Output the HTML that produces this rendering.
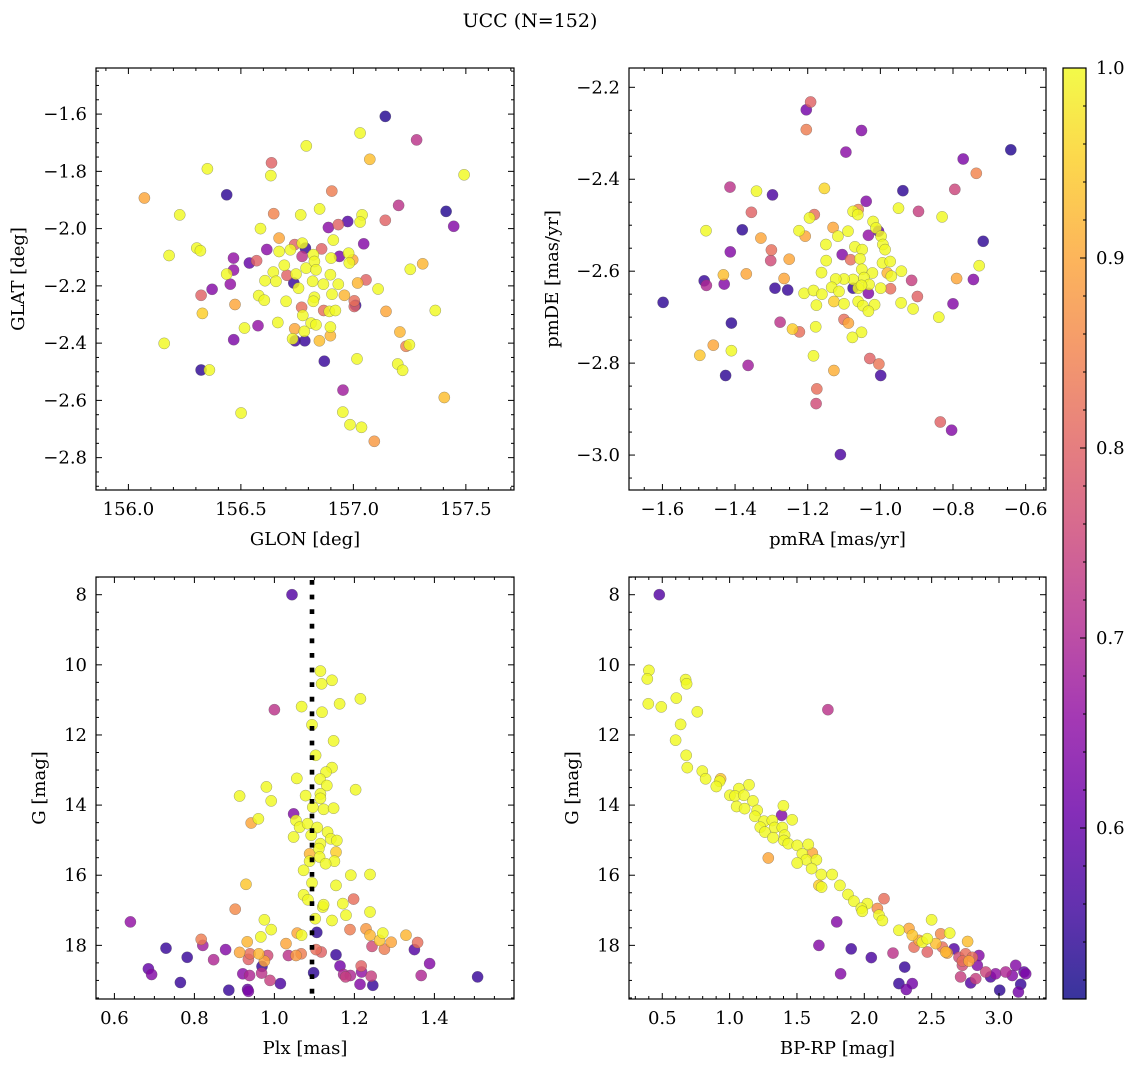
<!DOCTYPE html>
<html><head><meta charset="utf-8">
<style>
html,body{margin:0;padding:0;background:#fff;}
svg{display:block;font-family:"DejaVu Serif","Liberation Serif",serif;}
</style></head>
<body>
<svg id="fig" width="1136" height="1067" viewBox="0 0 1136 1067" xmlns="http://www.w3.org/2000/svg">
<defs>
<linearGradient id="plasmaGrad" x1="0" y1="1" x2="0" y2="0">
<stop offset="0" stop-color="#0d0887"/><stop offset="0.1" stop-color="#41049d"/><stop offset="0.2" stop-color="#6a00a8"/><stop offset="0.3" stop-color="#8f0da4"/><stop offset="0.4" stop-color="#b12a90"/><stop offset="0.5" stop-color="#cc4778"/><stop offset="0.6" stop-color="#e16462"/><stop offset="0.7" stop-color="#f2844b"/><stop offset="0.8" stop-color="#fca636"/><stop offset="0.9" stop-color="#fcce25"/><stop offset="1" stop-color="#f0f921"/>
</linearGradient>
</defs>
<text x="530" y="27" font-size="19" text-anchor="middle">UCC (N=152)</text>
<g id="root"></g>
</svg>
<script>
// ---- Panel 1: GLON / GLAT ----
const p1Glon=[157.142,157.281,157.030,156.791,157.073,156.636,156.633,156.351,157.492,156.071,156.437,156.904,156.228,156.646,156.766,156.850,157.201,157.412,157.446,157.142,157.039,157.030,156.975,156.889,156.933,156.587,156.670,156.911,157.046,156.615,156.670,156.720,156.739,156.773,156.787,156.772,156.859,156.822,156.901,156.938,156.979,156.997,156.982,156.467,156.538,156.570,156.467,156.437,156.453,156.181,156.304,156.320,156.323,156.372,156.329,156.474,156.693,156.644,156.656,156.607,156.705,156.745,156.735,156.756,156.790,156.827,156.834,156.819,156.867,156.898,156.933,157.019,157.056,157.110,157.253,157.308,157.364,156.579,156.604,156.701,156.827,156.822,156.905,156.960,157.004,157.004,157.010,157.145,156.770,156.868,156.893,156.920,156.775,156.664,156.576,156.516,156.468,156.159,156.739,156.812,156.834,156.898,156.898,156.849,156.782,156.730,156.741,156.784,157.207,157.234,157.249,156.871,157.016,157.197,157.219,156.323,156.360,156.954,157.404,156.501,156.953,156.985,157.036,157.093];
const p1Glat=[-1.608,-1.690,-1.666,-1.711,-1.758,-1.770,-1.815,-1.791,-1.812,-1.893,-1.882,-1.869,-1.952,-1.948,-1.952,-1.931,-1.919,-1.940,-1.992,-1.971,-1.952,-1.977,-1.975,-1.996,-1.986,-2.000,-2.033,-2.040,-2.053,-2.073,-2.080,-2.074,-2.056,-2.051,-2.068,-2.097,-2.071,-2.091,-2.103,-2.097,-2.086,-2.109,-2.120,-2.103,-2.120,-2.112,-2.145,-2.159,-2.194,-2.094,-2.068,-2.077,-2.233,-2.212,-2.296,-2.265,-2.128,-2.152,-2.184,-2.182,-2.163,-2.159,-2.190,-2.208,-2.138,-2.115,-2.144,-2.184,-2.194,-2.161,-2.194,-2.190,-2.179,-2.211,-2.142,-2.123,-2.286,-2.234,-2.250,-2.254,-2.240,-2.254,-2.229,-2.233,-2.252,-2.272,-2.268,-2.289,-2.275,-2.286,-2.289,-2.286,-2.303,-2.328,-2.339,-2.347,-2.388,-2.401,-2.350,-2.330,-2.336,-2.344,-2.374,-2.392,-2.359,-2.385,-2.392,-2.392,-2.361,-2.411,-2.406,-2.463,-2.455,-2.473,-2.495,-2.494,-2.494,-2.564,-2.590,-2.644,-2.641,-2.685,-2.694,-2.743];
const p1Prob=[0.53,0.72,0.98,0.98,0.93,0.80,0.98,0.98,0.98,0.90,0.54,0.84,0.98,0.85,0.98,0.98,0.72,0.53,0.64,0.80,0.98,0.98,0.58,0.65,0.80,0.98,0.90,0.98,0.64,0.65,0.98,0.98,0.80,0.98,0.55,0.72,0.80,0.98,0.98,0.63,0.98,0.90,0.98,0.66,0.60,0.80,0.66,0.98,0.66,0.98,0.98,0.98,0.80,0.64,0.95,0.90,0.98,0.98,0.98,0.98,0.80,0.98,0.55,0.98,0.98,0.98,0.98,0.98,0.98,0.98,0.98,0.92,0.80,0.98,0.98,0.92,0.98,0.98,0.98,0.98,0.98,0.98,0.98,0.92,0.82,0.80,0.55,0.90,0.82,0.82,0.98,0.98,0.98,0.98,0.66,0.98,0.63,0.98,0.90,0.98,0.98,0.98,0.92,0.93,0.98,0.98,0.56,0.55,0.92,0.85,0.98,0.55,0.98,0.98,0.98,0.54,0.98,0.68,0.93,0.98,0.98,0.98,0.98,0.88];

// ---- Panel 2: pmRA / pmDE ----
const p2Pmra=[-1.192,-1.204,-1.204,-1.052,-1.095,-0.641,-0.772,-0.736,-0.795,-0.938,-1.414,-1.341,-1.297,-1.154,-1.039,-0.950,-0.895,-0.830,-1.355,-1.480,-1.380,-1.329,-1.413,-1.300,-1.302,-1.251,-1.432,-1.369,-1.485,-1.479,-1.430,-1.265,-1.290,-1.255,-1.598,-1.410,-1.276,-1.242,-1.223,-1.178,-1.460,-1.497,-1.410,-1.426,-1.364,-1.184,-1.128,-1.029,-1.004,-0.999,-1.175,-1.177,-1.110,-0.835,-0.804,-0.717,-0.728,-0.790,-0.744,-0.914,-0.898,-0.800,-0.839,-0.910,-0.943,-1.224,-1.207,-1.195,-1.182,-1.150,-1.149,-1.162,-1.130,-1.117,-1.089,-1.075,-1.061,-1.062,-1.070,-1.050,-1.056,-1.082,-1.105,-1.020,-1.012,-1.005,-1.033,-0.998,-0.993,-0.987,-0.994,-0.973,-0.981,-0.970,-0.942,-1.051,-1.022,-1.045,-1.075,-1.100,-1.123,-1.134,-1.114,-1.075,-1.061,-1.033,-1.031,-0.999,-0.972,-1.210,-1.184,-1.161,-1.128,-1.100,-1.061,-1.048,-1.016,-1.033,-1.176,-1.100,-1.088,-1.052,-1.077,-1.052];
const p2Pmde=[-2.232,-2.249,-2.292,-2.294,-2.341,-2.336,-2.356,-2.387,-2.422,-2.425,-2.417,-2.426,-2.434,-2.420,-2.448,-2.463,-2.470,-2.482,-2.472,-2.512,-2.510,-2.528,-2.558,-2.554,-2.577,-2.574,-2.608,-2.606,-2.621,-2.631,-2.628,-2.616,-2.637,-2.641,-2.668,-2.713,-2.711,-2.726,-2.732,-2.721,-2.761,-2.783,-2.773,-2.827,-2.805,-2.784,-2.816,-2.790,-2.802,-2.827,-2.856,-2.888,-2.999,-2.928,-2.946,-2.535,-2.588,-2.616,-2.618,-2.620,-2.655,-2.671,-2.700,-2.682,-2.669,-2.512,-2.524,-2.484,-2.477,-2.542,-2.577,-2.603,-2.505,-2.524,-2.513,-2.470,-2.466,-2.477,-2.547,-2.553,-2.573,-2.575,-2.564,-2.492,-2.506,-2.513,-2.522,-2.524,-2.542,-2.553,-2.582,-2.579,-2.604,-2.611,-2.600,-2.596,-2.604,-2.614,-2.618,-2.617,-2.617,-2.635,-2.644,-2.637,-2.637,-2.648,-2.629,-2.637,-2.638,-2.648,-2.642,-2.650,-2.666,-2.671,-2.666,-2.675,-2.673,-2.687,-2.674,-2.705,-2.713,-2.733,-2.744,-2.631];
const p2Prob=[0.80,0.62,0.84,0.64,0.65,0.53,0.63,0.85,0.75,0.54,0.72,0.98,0.57,0.96,0.64,0.98,0.74,0.98,0.80,0.98,0.54,0.90,0.64,0.82,0.76,0.90,0.93,0.90,0.55,0.70,0.64,0.90,0.55,0.55,0.54,0.54,0.72,0.95,0.82,0.98,0.90,0.94,0.98,0.54,0.68,0.98,0.91,0.80,0.83,0.56,0.82,0.76,0.57,0.80,0.64,0.54,0.98,0.90,0.64,0.74,0.80,0.64,0.98,0.98,0.98,0.98,0.90,0.98,0.82,0.98,0.98,0.98,0.90,0.98,0.98,0.98,0.85,0.98,0.98,0.98,0.98,0.82,0.64,0.98,0.98,0.60,0.66,0.98,0.98,0.98,0.98,0.98,0.92,0.98,0.98,0.98,0.98,0.98,0.98,0.98,0.98,0.98,0.98,0.55,0.98,0.64,0.98,0.98,0.82,0.98,0.98,0.98,0.95,0.98,0.98,0.98,0.98,0.98,0.98,0.82,0.90,0.98,0.98,0.98];

// ---- Panel 3: Plx / G ----
const p3Plx=[1.044,1.115,1.144,1.118,1.000,1.068,1.163,1.215,1.119,1.094,1.148,1.103,1.144,1.129,1.056,1.114,1.131,0.980,1.203,0.913,1.078,1.115,0.992,1.115,1.096,1.123,1.148,1.048,1.054,0.960,0.942,1.063,1.083,1.107,1.133,1.048,1.092,1.141,1.156,1.115,1.111,1.154,1.088,1.113,1.088,1.150,1.128,1.073,1.191,1.239,0.929,1.094,1.154,1.073,1.084,1.198,1.171,1.121,1.123,0.902,1.239,1.179,1.102,1.144,0.975,0.640,0.992,0.966,1.106,1.057,1.068,1.189,1.229,1.239,1.271,1.263,1.292,1.329,1.358,1.350,1.275,1.244,0.817,0.821,0.729,0.782,0.848,0.878,0.932,0.913,0.939,0.961,0.935,0.975,0.983,1.029,1.035,1.054,1.067,1.104,1.117,1.154,0.969,0.921,0.938,0.968,0.989,1.015,0.685,0.693,0.765,0.886,0.933,0.935,1.098,1.164,1.173,1.178,1.190,1.217,1.218,1.242,1.214,1.246,1.367,1.388,1.508];
const p3G=[8.00,10.18,10.44,10.54,11.28,11.19,11.11,10.97,11.35,11.71,12.17,12.58,12.93,13.06,13.24,13.26,13.44,13.48,13.56,13.74,13.73,13.68,13.88,13.81,14.06,14.12,14.09,14.25,14.44,14.39,14.51,14.63,14.53,14.64,14.77,14.91,14.86,14.96,15.01,15.10,15.24,15.34,15.39,15.48,15.60,15.60,15.67,15.86,16.00,15.98,16.26,16.22,16.29,16.56,16.70,16.68,16.81,16.91,16.84,16.97,17.05,17.14,17.24,17.29,17.27,17.33,17.55,17.76,17.63,17.65,17.71,17.55,17.53,17.71,17.65,17.86,17.91,17.71,17.92,18.12,18.11,18.03,17.83,18.00,18.08,18.34,18.41,18.12,17.90,18.20,18.24,18.24,18.40,18.45,18.29,17.95,18.29,18.29,18.24,18.12,18.19,18.27,18.60,18.81,18.86,18.79,19.00,19.09,18.67,18.83,19.06,19.28,19.26,19.31,18.78,18.59,18.83,18.90,18.86,18.59,18.76,18.88,19.11,19.14,18.86,18.52,18.90];
const p3Prob=[0.58,0.98,0.98,0.98,0.72,0.98,0.98,0.98,0.98,0.98,0.98,0.98,0.98,0.98,0.98,0.98,0.98,0.98,0.98,0.98,0.98,0.98,0.98,0.98,0.98,0.98,0.98,0.64,0.98,0.98,0.90,0.98,0.98,0.98,0.98,0.98,0.98,0.98,0.98,0.98,0.98,0.95,0.92,0.98,0.98,0.98,0.98,0.98,0.98,0.98,0.94,0.98,0.98,0.98,0.98,0.82,0.98,0.98,0.98,0.86,0.98,0.98,0.98,0.98,0.98,0.66,0.98,0.98,0.54,0.90,0.98,0.84,0.88,0.92,0.98,0.94,0.90,0.92,0.82,0.58,0.84,0.76,0.84,0.68,0.55,0.55,0.70,0.64,0.92,0.90,0.82,0.92,0.80,0.90,0.76,0.90,0.72,0.88,0.84,0.82,0.80,0.55,0.55,0.65,0.70,0.72,0.74,0.57,0.60,0.64,0.55,0.55,0.60,0.63,0.54,0.62,0.70,0.74,0.70,0.80,0.66,0.74,0.64,0.55,0.70,0.64,0.55];
const plxMedian=1.094;

// ---- Panel 4: BP-RP / G ----
const p4Bprp=[0.478,0.401,0.389,0.673,0.681,0.396,0.493,0.604,0.760,1.730,0.636,0.599,0.678,0.686,0.797,0.822,0.933,0.926,0.901,1.144,1.069,1.002,1.040,1.106,1.052,1.111,1.173,1.205,1.399,1.386,1.465,1.188,1.255,1.317,1.228,1.334,1.262,1.391,1.408,1.322,1.403,1.436,1.502,1.584,1.614,1.540,1.569,1.644,1.287,1.502,1.609,1.681,1.762,1.663,1.683,1.819,1.879,1.923,2.022,1.978,1.985,2.146,2.097,2.109,2.134,1.795,2.500,2.257,2.332,2.356,2.406,2.431,2.468,2.567,2.634,2.767,2.369,2.468,2.579,2.616,2.666,2.703,2.752,2.802,2.851,2.777,2.728,2.839,2.901,2.975,3.050,3.124,3.186,3.198,3.099,2.715,2.827,2.938,2.790,3.005,3.161,3.144,1.663,1.903,2.052,2.213,1.824,2.300,2.257,2.356,2.312,2.530,2.604,2.728];
const p4G=[8.00,10.16,10.40,10.42,10.54,11.11,11.20,10.95,11.34,11.28,11.70,12.15,12.58,12.93,13.03,13.25,13.25,13.32,13.47,13.42,13.53,13.72,13.74,13.72,14.04,14.10,13.88,14.15,14.02,14.29,14.42,14.32,14.46,14.44,14.63,14.64,14.77,14.64,14.86,14.93,15.01,15.10,15.15,15.12,15.37,15.39,15.56,15.56,15.51,15.65,15.81,15.98,15.98,16.29,16.34,16.29,16.55,16.74,16.81,16.94,17.03,16.67,16.95,17.14,17.29,17.33,17.27,17.57,17.52,17.71,17.86,17.91,17.81,17.67,17.65,17.89,18.05,18.19,18.05,18.22,18.10,18.34,18.24,18.34,18.29,18.45,18.57,18.57,18.76,18.81,18.76,18.57,18.76,18.81,18.86,18.90,18.95,18.90,19.07,19.28,19.11,19.33,18.00,18.10,18.35,18.22,18.81,18.62,19.09,19.09,19.26,17.95,18.19,18.45];
const p4Prob=[0.58,0.98,0.98,0.98,0.98,0.98,0.98,0.98,0.98,0.72,0.98,0.98,0.98,0.98,0.98,0.98,0.94,0.98,0.98,0.98,0.98,0.98,0.98,0.98,0.98,0.98,0.98,0.98,0.98,0.64,0.98,0.98,0.98,0.98,0.98,0.98,0.98,0.98,0.98,0.98,0.98,0.98,0.98,0.98,0.90,0.98,0.98,0.98,0.90,0.98,0.98,0.98,0.98,0.95,0.98,0.98,0.98,0.98,0.98,0.98,0.98,0.82,0.86,0.98,0.98,0.64,0.98,0.98,0.90,0.94,0.90,0.98,0.98,0.86,0.98,0.93,0.82,0.80,0.82,0.90,0.58,0.76,0.82,0.82,0.64,0.90,0.76,0.64,0.75,0.66,0.70,0.64,0.60,0.63,0.64,0.74,0.74,0.57,0.58,0.54,0.55,0.62,0.64,0.56,0.57,0.72,0.64,0.55,0.55,0.62,0.62,0.93,0.92,0.82];

// ---- Colorbar ----
const cbarTicks=[0.6,0.7,0.8,0.9,1.0];
const cbarMin=0.51, cbarMax=1.0;

const NS="http://www.w3.org/2000/svg";
const root=document.getElementById('root');
function mk(tag,attrs,parent){const e=document.createElementNS(NS,tag);for(const k in attrs)e.setAttribute(k,attrs[k]);(parent||root).appendChild(e);return e;}

const plasmaStops=[[13,8,135],[65,4,157],[106,0,168],[143,13,164],[177,42,144],[204,71,120],[225,100,98],[242,132,75],[252,166,54],[252,206,37],[240,249,33]];
function plasma(p){const q=p>=0.97?1.0:p;let t=(q-cbarMin)/(cbarMax-cbarMin);t=Math.max(0,Math.min(1,t))*10;const i=Math.min(9,Math.floor(t));const f=t-i;const a=plasmaStops[i],b=plasmaStops[i+1];
return 'rgb('+[0,1,2].map(k=>Math.round(a[k]+(b[k]-a[k])*f)).join(',')+')';}

function fmt(v,d){const s=Math.abs(v).toFixed(d);return (v<-1e-9?'\u2212':'')+s;}

const FS=18;
function panel(cfg){
  const g=mk('g',{});
  
  
  const X=v=>cfg.x0+(v-cfg.xmin)/(cfg.xmax-cfg.xmin)*(cfg.x1-cfg.x0);
  const Y=v=>cfg.y1-(v-cfg.ymin)/(cfg.ymax-cfg.ymin)*(cfg.y1-cfg.y0);
  const pg=mk('g',{},g);
  
  
  const order=cfg.p.map((v,i)=>i).sort((a,b)=>cfg.p[a]-cfg.p[b]);
  order.forEach(i=>{
    const c=mk('circle',{cx:X(cfg.xs[i]).toFixed(1),cy:Y(cfg.ys[i]).toFixed(1),r:5.6,fill:plasma(cfg.p[i]),'fill-opacity':0.82,stroke:'#555','stroke-width':0.4,'stroke-opacity':0.7},pg);
    
    
  });
  if(cfg.vline!==undefined){
    const l=mk('line',{x1:X(cfg.vline),x2:X(cfg.vline),y1:cfg.y0,y2:cfg.y1,stroke:'#000','stroke-width':4.6,'stroke-dasharray':'4.8 9.8','stroke-dashoffset':-3},g);
    
    
  }
  const fr=mk('rect',{x:cfg.x0,y:cfg.y0,width:cfg.x1-cfg.x0,height:cfg.y1-cfg.y0,fill:'none',stroke:'#000','stroke-width':1.2},g);
  
  
  const tg=mk('g',{stroke:'#000','stroke-width':1},g);
  const xs0=Math.ceil(cfg.xmin/cfg.xminor-1e-6);
  for(let k=xs0;k*cfg.xminor<=cfg.xmax+1e-9;k++){const v=k*cfg.xminor;const major=Math.abs(v/cfg.xmajor-Math.round(v/cfg.xmajor))<1e-6;const L=major?6:3;const px=X(v);
    mk('line',{x1:px,x2:px,y1:cfg.y1,y2:cfg.y1-L},tg);mk('line',{x1:px,x2:px,y1:cfg.y0,y2:cfg.y0+L},tg);}
  const ys0=Math.ceil(cfg.ymin/cfg.yminor-1e-6);
  for(let k=ys0;k*cfg.yminor<=cfg.ymax+1e-9;k++){const v=k*cfg.yminor;const major=Math.abs(v/cfg.ymajor-Math.round(v/cfg.ymajor))<1e-6;const L=major?6:3;const py=Y(v);
    mk('line',{y1:py,y2:py,x1:cfg.x0,x2:cfg.x0+L},tg);mk('line',{y1:py,y2:py,x1:cfg.x1,x2:cfg.x1-L},tg);}
  cfg.xticks.forEach(v=>{const t=mk('text',{x:X(v),y:cfg.y1+25,'font-size':FS,'text-anchor':'middle'},g);t.textContent=fmt(v,cfg.xdec);
    
    });
  cfg.yticks.forEach(v=>{const t=mk('text',{x:cfg.x0-9,y:Y(v)+6,'font-size':FS,'text-anchor':'end'},g);t.textContent=fmt(v,cfg.ydec);
    
    });
  const xl=mk('text',{x:(cfg.x0+cfg.x1)/2,y:cfg.y1+55,'font-size':FS,'text-anchor':'middle'},g);xl.textContent=cfg.xlabel;
  
  
  const yx=cfg.ylx, yy=(cfg.y0+cfg.y1)/2;
  const yl=mk('text',{x:yx,y:yy,'font-size':FS,'text-anchor':'middle',transform:'rotate(-90 '+yx+' '+yy+')'},g);yl.textContent=cfg.ylabel;
  
  
}

panel({name:'glon-glat-panel',x0:96,x1:514,y0:68,y1:490,xmin:155.856,xmax:157.714,ymin:-2.913,ymax:-1.439,
  xs:p1Glon,ys:p1Glat,p:p1Prob,xminor:0.1,xmajor:0.5,yminor:0.05,ymajor:0.2,
  xticks:[156.0,156.5,157.0,157.5],yticks:[-1.6,-1.8,-2.0,-2.2,-2.4,-2.6,-2.8],xdec:1,ydec:1,xlabel:'GLON [deg]',ylabel:'GLAT [deg]',ylx:24});
panel({name:'pm-panel',x0:629,x1:1046,y0:68,y1:490,xmin:-1.692,xmax:-0.544,ymin:-3.076,ymax:-2.158,
  xs:p2Pmra,ys:p2Pmde,p:p2Prob,xminor:0.05,xmajor:0.2,yminor:0.05,ymajor:0.2,
  xticks:[-1.6,-1.4,-1.2,-1.0,-0.8,-0.6],yticks:[-2.2,-2.4,-2.6,-2.8,-3.0],xdec:1,ydec:1,xlabel:'pmRA [mas/yr]',ylabel:'pmDE [mas/yr]',ylx:558});
panel({name:'plx-g-panel',x0:96,x1:514,y0:577,y1:999,xmin:0.554,xmax:1.599,ymin:-19.53,ymax:-7.495,
  xs:p3Plx,ys:p3G.map(v=>-v),p:p3Prob,xminor:0.05,xmajor:0.2,yminor:0.5,ymajor:2,vline:plxMedian,
  xticks:[0.6,0.8,1.0,1.2,1.4],yticks:[-8,-10,-12,-14,-16,-18],xdec:1,ydec:0,xlabel:'Plx [mas]',ylabel:'G [mag]',ylx:45});
panel({name:'cmd-panel',x0:629,x1:1046,y0:577,y1:999,xmin:0.253,xmax:3.349,ymin:-19.53,ymax:-7.495,
  xs:p4Bprp,ys:p4G.map(v=>-v),p:p4Prob,xminor:0.1,xmajor:0.5,yminor:0.5,ymajor:2,
  xticks:[0.5,1.0,1.5,2.0,2.5,3.0],yticks:[-8,-10,-12,-14,-16,-18],xdec:1,ydec:0,xlabel:'BP-RP [mag]',ylabel:'G [mag]',ylx:578});
document.querySelectorAll('text').forEach(t=>{if(/^\u2212\d+$/.test(t.textContent))t.textContent=t.textContent.slice(1);});

const cb=mk('g',{});


const cx0=1063,cx1=1086,cy0=68,cy1=999;
mk('rect',{x:cx0,y:cy0,width:cx1-cx0,height:cy1-cy0,fill:'url(#plasmaGrad)','fill-opacity':0.82},cb);
mk('rect',{x:cx0,y:cy0,width:cx1-cx0,height:cy1-cy0,fill:'none',stroke:'#000','stroke-width':1.2},cb);
const CY=v=>cy1-(v-cbarMin)/(cbarMax-cbarMin)*(cy1-cy0);
for(let k=26;k<=50;k++){const v=k*0.02;if(v<cbarMin)continue;const major=(k%5===0);const py=CY(v);
  mk('line',{x1:cx1,x2:cx1-(major?6:3),y1:py,y2:py,stroke:'#000','stroke-width':1},cb);}
cbarTicks.forEach(v=>{const t=mk('text',{x:cx1+10,y:CY(v)+6,'font-size':FS},cb);t.textContent=v.toFixed(1);
  
  });
</script>
</body></html>
